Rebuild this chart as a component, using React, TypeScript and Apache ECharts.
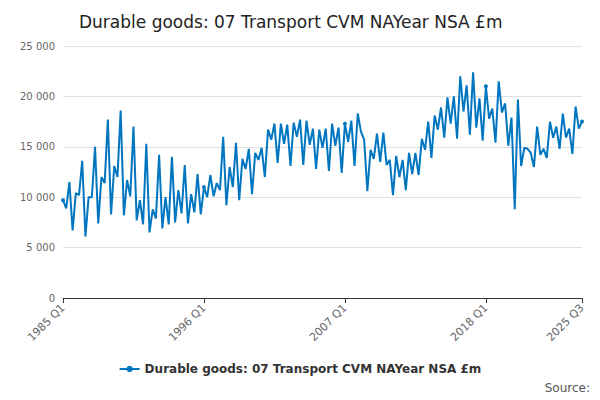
import { useEffect, useRef } from "react";
import * as echarts from "echarts";

const seriesName = "Durable goods: 07 Transport CVM NAYear NSA £m";

// quarterly values, £m thousands, 1985 Q1 .. 2025 Q3
const values1985to1994 = [
  9.7, 8.9, 11.5, 6.7, 10.4, 10.2, 13.6, 6.1, 10.0, 10.0, 15.0, 7.4, 12.0, 11.4, 17.7, 8.3,
  13.1, 12.0, 18.6, 8.2, 11.7, 10.1, 17.0, 7.7, 9.7, 7.3, 15.3, 6.5, 8.8, 7.9, 14.2, 6.9,
  10.0, 7.3, 14.0, 7.5, 10.7, 8.4, 13.2, 7.4,
];
const values1995to2004 = [
  10.3, 8.5, 12.3, 8.3, 11.0, 10.0, 12.2, 10.1, 11.4, 10.7, 16.0, 9.2, 13.0, 11.0, 15.4, 9.7,
  13.8, 12.8, 14.8, 10.3, 14.4, 13.7, 14.9, 12.0, 16.7, 15.7, 17.3, 13.4, 17.3, 15.3, 17.2, 13.1,
  17.4, 16.0, 17.7, 13.2, 17.6, 15.2, 16.8, 12.8,
];
const values2005to2015 = [
  16.7, 14.9, 16.8, 12.6, 17.3, 15.1, 16.9, 12.4, 17.3, 15.5, 17.6, 13.1, 18.3, 16.5, 15.7, 10.6,
  14.7, 13.8, 16.3, 13.5, 16.4, 13.2, 13.7, 10.2, 14.1, 12.0, 13.7, 10.7, 14.4, 12.3, 14.4, 12.2,
  15.8, 14.7, 17.5, 13.9, 18.1, 16.7, 18.9, 15.9, 19.9, 17.3,
];
const values2015to2025 = [
  20.0, 15.8, 22.0, 18.5, 21.1, 16.2, 22.4, 16.9, 19.8, 15.6, 21.0, 17.8, 18.8, 15.4, 21.5, 18.4,
  19.3, 15.1, 17.9, 8.8, 19.7, 13.1, 14.9, 14.8, 14.4, 13.0, 17.0, 14.2, 14.8, 13.9, 17.5, 15.9,
  17.0, 14.8, 18.3, 15.9, 16.8, 14.3, 19.0, 16.8, 17.5,
];
const values = [...values1985to1994, ...values1995to2004, ...values2005to2015, ...values2015to2025].map(
  (v) => Math.round(v * 1000)
);

const categories: string[] = [];
for (let y = 1985; y <= 2025; y++) {
  for (let q = 1; q <= 4; q++) {
    if (y === 2025 && q > 3) break;
    categories.push(`${y} Q${q}`);
  }
}

const shownLabels = ["1985 Q1", "1996 Q1", "2007 Q1", "2018 Q1", "2025 Q3"];

export default function App() {
  const containerRef = useRef<HTMLDivElement>(null);

  useEffect(() => {
    if (!containerRef.current) return;
    const chart = echarts.init(containerRef.current, null, { renderer: "svg" });
    const font = "'DejaVu Sans', Verdana, sans-serif";

    chart.setOption({
      animation: false,
      textStyle: { fontFamily: font },
      title: {
        text: seriesName,
        left: 74,
        top: 8,
        textStyle: { fontSize: 17, fontWeight: "normal", color: "#222", fontFamily: font },
      },
      grid: { left: 63, right: 18, top: 46, bottom: 102 },
      legend: {
        bottom: 20,
        left: "center",
        itemWidth: 20,
        itemHeight: 8,
        textStyle: { fontSize: 12, fontWeight: "bold", color: "#333" },
        data: [seriesName],
      },
      graphic: [
        {
          type: "text",
          right: 10,
          bottom: 6,
          style: { text: "Source:", fontSize: 12, fill: "#555", fontFamily: font },
        },
      ],
      xAxis: {
        type: "category",
        data: categories,
        boundaryGap: false,
        axisLine: { lineStyle: { color: "#333" } },
        axisTick: {
          interval: (i: number, v: string) => shownLabels.includes(v),
          lineStyle: { color: "#333" },
        },
        axisLabel: {
          interval: (i: number, v: string) => shownLabels.includes(v),
          rotate: 45,
          fontSize: 11,
          color: "#666",
        },
      },
      yAxis: {
        type: "value",
        min: 0,
        max: 25000,
        interval: 5000,
        axisLabel: {
          fontSize: 10,
          color: "#666",
          formatter: (v: number) => (v >= 1000 ? String(v).replace(/(\d)(?=(\d{3})$)/, "$1 ") : String(v)),
        },
        splitLine: { lineStyle: { color: "#e0e0e0" } },
      },
      series: [
        {
          name: seriesName,
          type: "line",
          data: values,
          symbol: "circle",
          symbolSize: 4,
          color: "#0076c0",
          lineStyle: { width: 2 },
        },
      ],
    });

    return () => chart.dispose();
  }, []);

  return <div ref={containerRef} style={{ width: "600px", height: "400px", margin: "-8px" }} />;
}
